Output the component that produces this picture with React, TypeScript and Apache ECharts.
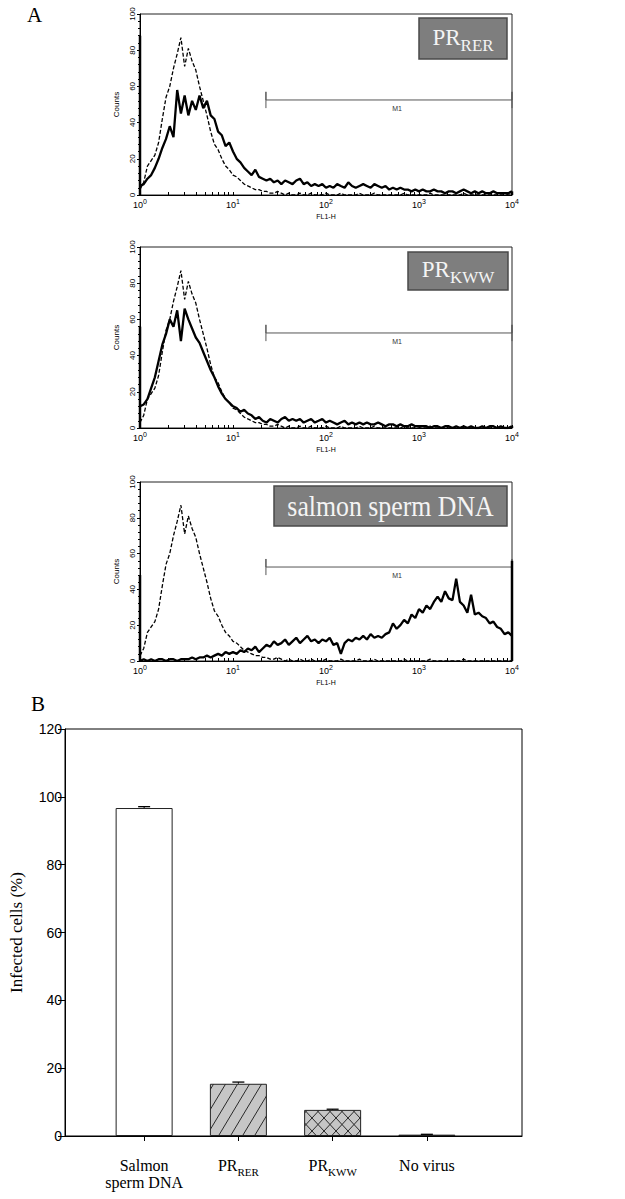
import React, { useEffect, useRef } from 'react';
import * as echarts from 'echarts';

// ---------- Panel A: flow cytometry histograms (FL1-H, log scale) ----------
const FL = [
  1, 1.096, 1.202, 1.318, 1.445, 1.585, 1.738, 1.905, 2.089, 2.291,
  2.512, 2.754, 3.02, 3.311, 3.631, 3.981, 4.365, 4.786, 5.248, 5.754,
  6.31, 6.918, 7.586, 8.318, 9.12, 10, 10.96, 12.02, 13.18, 14.45,
  15.85, 17.38, 19.05, 20.89, 22.91, 25.12, 27.54, 30.2, 33.11, 36.31,
  39.81, 43.65, 47.86, 52.48, 57.54, 63.1, 69.18, 75.86, 83.18, 91.2,
  100, 109.6, 120.2, 131.8, 144.5, 158.5, 173.8, 190.5, 208.9, 229.1,
  251.2, 275.4, 302, 331.1, 363.1, 398.1, 436.5, 478.6, 524.8, 575.4,
  631, 691.8, 758.6, 831.8, 912, 1000, 1096, 1202, 1318, 1445,
  1585, 1738, 1905, 2089, 2291, 2512, 2754, 3020, 3311, 3631,
  3981, 4365, 4786, 5248, 5754, 6310, 6918, 7586, 8318, 9120, 10000,
];

// isotype control (dashed), identical in the three panels
const CONTROL = [
  3, 7, 16, 19, 22, 29, 42, 54, 60, 70,
  78, 87, 71, 81, 74, 69, 60, 52, 44, 35,
  28, 25, 20, 16, 14, 11, 10, 8, 6, 5,
  4, 3, 3, 2, 2, 1, 1, 2, 1, 0,
  1, 0, 0, 1, 0, 0, 1, 0, 0, 0,
  1, 0, 0, 0, 1, 0, 0, 0, 0, 1,
  0, 0, 0, 1, 0, 0, 0, 0, 0, 0,
  0, 1, 0, 0, 0, 0, 0, 0, 1, 0,
  0, 0, 0, 0, 0, 0, 0, 1, 0, 0,
  0, 0, 0, 0, 0, 0, 0, 0, 0, 0, 0,
];

const PR_RER_HIST = [
  5, 6, 9, 11, 15, 20, 26, 31, 38, 32,
  58, 45, 55, 44, 52, 47, 55, 48, 52, 44,
  42, 35, 33, 27, 29, 24, 20, 18, 15, 13,
  11, 14, 10, 9, 8, 9, 7, 8, 6, 8,
  7, 6, 8, 9, 6, 7, 5, 6, 5, 6,
  4, 5, 4, 6, 5, 4, 7, 5, 4, 5,
  6, 5, 4, 6, 5, 4, 5, 3, 4, 3,
  4, 3, 3, 2, 3, 2, 3, 2, 2, 3,
  2, 2, 1, 2, 2, 1, 2, 3, 2, 1,
  2, 1, 2, 1, 1, 2, 1, 1, 1, 1, 2,
];

const PR_KWW_HIST = [
  12, 13, 16, 22, 28, 37, 46, 52, 60, 56,
  65, 48, 66, 60, 55, 50, 47, 42, 37, 32,
  28, 23, 19, 16, 14, 12, 11, 9, 10, 8,
  7, 5, 6, 4, 3, 5, 4, 3, 5, 6,
  4, 5, 4, 5, 3, 4, 5, 3, 4, 5,
  3, 4, 3, 2, 3, 4, 2, 3, 2, 3,
  2, 3, 2, 2, 3, 2, 1, 2, 2, 1,
  2, 1, 1, 2, 1, 1, 1, 1, 0, 1,
  1, 0, 1, 1, 0, 1, 0, 1, 0, 1,
  0, 0, 1, 0, 1, 1, 0, 1, 0, 0, 1,
];

const SALMON_HIST = [
  0, 1, 0, 1, 0, 1, 1, 0, 1, 1,
  0, 1, 1, 1, 2, 1, 2, 2, 3, 2,
  3, 4, 3, 5, 4, 5, 4, 6, 5, 7,
  6, 8, 5, 7, 9, 8, 11, 9, 10, 12,
  9, 11, 13, 10, 12, 14, 11, 12, 10, 12,
  11, 13, 9, 10, 4, 10, 12, 11, 13, 12,
  14, 12, 15, 13, 14, 13, 15, 16, 21, 18,
  20, 23, 21, 26, 24, 29, 27, 31, 29, 33,
  36, 33, 39, 35, 34, 46, 33, 31, 27, 37,
  26, 27, 25, 24, 21, 22, 19, 18, 15, 16, 14,
];

const FIRST_CHANNEL = [88, 56, 48];
const LAST_CHANNEL = [2, 1, 56];
const M1_RANGE = [22.6, 10000];
const M1_LEVEL = 52.5;
const X_DECADES = [1, 10, 100, 1000, 10000];
const PANEL_TITLES = ['PR_RER', 'PR_KWW', 'salmon sperm DNA'];

// ---------- Panel B: infected cells ----------
const CATEGORIES = ['Salmon sperm DNA', 'PR_RER', 'PR_KWW', 'No virus'];
const INFECTED = [96.7, 15.4, 7.7, 0.4];
const INFECTED_SEM = [0.4, 0.5, 0.2, 0.1];

const SANS = 'Liberation Sans, Arial, sans-serif';
const SERIF = 'Liberation Serif, Times New Roman, serif';

function makeHatch(cross: boolean) {
  const w = 12;
  const h = cross ? 13 : 20;
  const c = document.createElement('canvas');
  c.width = w;
  c.height = h;
  const ctx = c.getContext('2d')!;
  ctx.fillStyle = '#c6c6c6';
  ctx.fillRect(0, 0, w, h);
  ctx.strokeStyle = '#2a2a2a';
  ctx.lineWidth = 1;
  for (const off of [-w, 0, w]) {
    ctx.beginPath();
    ctx.moveTo(off, h);
    ctx.lineTo(off + w, 0);
    ctx.stroke();
    if (cross) {
      ctx.beginPath();
      ctx.moveTo(off, 0);
      ctx.lineTo(off + w, h);
      ctx.stroke();
    }
  }
  return c;
}

export default function App() {
  const ref = useRef<HTMLDivElement>(null);

  useEffect(() => {
    if (!ref.current) return;
    const chart = echarts.init(ref.current, null, { renderer: 'svg' });

    const panelLayout = [
      { top: 14, height: 181 },
      { top: 247, height: 181 },
      { top: 482, height: 179 },
    ];
    const hists = [PR_RER_HIST, PR_KWW_HIST, SALMON_HIST];

    const minorTicks: number[] = [];
    X_DECADES.slice(0, -1).forEach((d) => {
      for (let k = 1; k <= 9; k++) minorTicks.push(d * k);
    });
    minorTicks.push(X_DECADES[X_DECADES.length - 1]);

    const grid: any[] = panelLayout.map((p) => ({
      left: 140,
      width: 372,
      top: p.top,
      height: p.height,
      show: true,
      borderColor: '#222',
      borderWidth: 1,
    }));
    grid.push({ left: 59, width: 463, top: 729, height: 407, show: true, borderColor: '#000', borderWidth: 1 });
    grid.push({ left: 97, width: 377, top: 729, height: 407 });

    const xAxis: any[] = panelLayout.map((_, i) => ({
      type: 'log',
      logBase: 10,
      min: 1,
      max: 10000,
      gridIndex: i,
      axisLine: { show: true, lineStyle: { color: '#000', width: 1 } },
      axisTick: { show: true, inside: true, length: 3, customValues: minorTicks, lineStyle: { color: '#000' } },
      splitLine: { show: false },
      axisLabel: {
        margin: 3,
        formatter: (v: number) => `{b|10}{s|${Math.round(Math.log10(v))}}`,
        rich: {
          b: { fontSize: 9, fontFamily: SANS, color: '#000', verticalAlign: 'bottom' },
          s: { fontSize: 7, fontFamily: SANS, color: '#000', verticalAlign: 'bottom', padding: [0, 0, 4, 0] },
        },
      },
      name: 'FL1-H',
      nameLocation: 'middle',
      nameGap: 18,
      nameTextStyle: { fontSize: 7, fontFamily: SANS, color: '#000' },
    }));
    xAxis.push({
      type: 'value',
      gridIndex: 3,
      min: 0,
      max: 1,
      axisLine: { show: true, lineStyle: { color: '#000', width: 1 } },
      axisTick: { show: false },
      axisLabel: { show: false },
      splitLine: { show: false },
    });
    xAxis.push({
      type: 'category',
      gridIndex: 4,
      data: CATEGORIES,
      axisLine: { show: false },
      axisTick: { show: true, alignWithLabel: true, length: 5, lineStyle: { color: '#000' } },
      axisLabel: {
        margin: 24,
        interval: 0,
        formatter: (v: string) => {
          if (v.includes('_')) {
            const [m, s] = v.split('_');
            return `{m|${m}}{s|${s}}`;
          }
          const words = v.split(' ');
          if (words.length > 2) return `{m|${words[0]}}\n{m|${words.slice(1).join(' ')}}`;
          return `{m|${v}}`;
        },
        rich: {
          m: { fontSize: 16, fontFamily: SERIF, color: '#000', verticalAlign: 'bottom', lineHeight: 17, padding: [0, 0, 4, 0] },
          s: { fontSize: 11, fontFamily: SERIF, color: '#000', verticalAlign: 'bottom', lineHeight: 13 },
        },
      },
    });

    const yAxis: any[] = panelLayout.map((_, i) => ({
      type: 'value',
      gridIndex: i,
      min: 0,
      max: 100,
      interval: 20,
      axisLine: { show: true, lineStyle: { color: '#000', width: 1 } },
      axisTick: { show: true, length: 3, lineStyle: { color: '#000' } },
      minorTick: { show: true, splitNumber: 5, length: 2, lineStyle: { color: '#000' } },
      splitLine: { show: false },
      axisLabel: { rotate: 90, fontSize: 8, margin: 4, color: '#000', fontFamily: SANS },
      name: 'Counts',
      nameLocation: 'middle',
      nameGap: 18,
      nameTextStyle: { fontSize: 8, fontFamily: SANS, color: '#000' },
    }));
    yAxis.push({
      type: 'value',
      gridIndex: 3,
      min: 0,
      max: 120,
      interval: 20,
      axisLine: { show: true, lineStyle: { color: '#000', width: 1 } },
      axisTick: { show: true, length: 7, lineStyle: { color: '#000' } },
      splitLine: { show: false },
      axisLabel: { fontSize: 14, margin: 3, color: '#000', fontFamily: SANS },
      name: 'Infected cells (%)',
      nameLocation: 'middle',
      nameGap: 40,
      nameTextStyle: { fontSize: 17, fontFamily: SERIF, color: '#000' },
    });
    yAxis.push({ type: 'value', gridIndex: 4, min: 0, max: 120, show: false });

    const series: any[] = [];
    hists.forEach((h, i) => {
      const base = { type: 'line', xAxisIndex: i, yAxisIndex: i, symbol: 'none', silent: true };
      series.push({
        ...base,
        data: FL.map((x, k) => [x, CONTROL[k]]),
        lineStyle: { color: '#000', width: 1.3, type: [4, 2] },
        z: 2,
      });
      series.push({
        ...base,
        data: FL.map((x, k) => [x, h[k]]),
        lineStyle: { color: '#000', width: 2.3 },
        z: 3,
      });
      series.push({
        ...base,
        clip: false,
        data: [[FL[0], 0], [FL[0], FIRST_CHANNEL[i]]],
        lineStyle: { color: '#000', width: 2.5 },
        z: 4,
      });
      series.push({
        ...base,
        clip: false,
        data: [[FL[FL.length - 1], 0], [FL[FL.length - 1], LAST_CHANNEL[i]]],
        lineStyle: { color: '#000', width: 2.5 },
        z: 4,
      });
      series.push({
        ...base,
        clip: false,
        data: [
          [M1_RANGE[0], M1_LEVEL - 4.5],
          [M1_RANGE[0], M1_LEVEL + 4.5],
          [M1_RANGE[0], M1_LEVEL],
          [M1_RANGE[1], M1_LEVEL],
          [M1_RANGE[1], M1_LEVEL + 4.5],
          [M1_RANGE[1], M1_LEVEL - 4.5],
        ],
        lineStyle: { color: '#555', width: 1 },
        z: 1,
      });
    });

    const fills: any[] = [
      '#ffffff',
      { image: makeHatch(false), repeat: 'repeat' },
      { image: makeHatch(true), repeat: 'repeat' },
      '#000000',
    ];
    series.push({
      type: 'bar',
      xAxisIndex: 4,
      yAxisIndex: 4,
      barWidth: 57,
      silent: true,
      data: INFECTED.map((v, i) => ({
        value: v,
        itemStyle: { color: fills[i], borderColor: '#222', borderWidth: 1 },
      })),
      z: 2,
    });
    series.push({
      type: 'custom',
      xAxisIndex: 4,
      yAxisIndex: 4,
      silent: true,
      z: 3,
      data: CATEGORIES.map((_, i) => [i, INFECTED[i], INFECTED_SEM[i]]),
      renderItem: (_params: any, api: any) => {
        const x = api.value(0);
        const v = api.value(1);
        const e = api.value(2);
        const top = api.coord([x, v + e]);
        const base = api.coord([x, v]);
        return {
          type: 'group',
          children: [
            { type: 'line', shape: { x1: top[0], y1: base[1], x2: top[0], y2: top[1] }, style: { stroke: '#000', lineWidth: 1 } },
            { type: 'line', shape: { x1: top[0] - 6, y1: top[1], x2: top[0] + 6, y2: top[1] }, style: { stroke: '#000', lineWidth: 1.3 } },
          ],
        };
      },
    });

    const boxes = [
      { x: 419, y: 18, w: 88, h: 41 },
      { x: 408, y: 252, w: 100, h: 38 },
      { x: 274, y: 486, w: 233, h: 40 },
    ];
    const m1LabelY = [108, 341, 575];
    const graphic: any[] = [];
    PANEL_TITLES.forEach((t, i) => {
      const b = boxes[i];
      graphic.push({
        type: 'rect',
        shape: { x: b.x, y: b.y, width: b.w, height: b.h },
        style: { fill: '#7e7e7e', stroke: '#4a4a4a', lineWidth: 1.5 },
        z: 10,
      });
      const isSub = t.includes('_');
      const [m, s] = t.split('_');
      graphic.push({
        type: 'text',
        x: b.x + b.w / 2,
        y: b.y + b.h / 2 + (isSub ? 1 : 0),
        scaleX: isSub ? 1 : 0.86,
        z: 11,
        style: isSub
          ? {
              text: `{m|${m}}{s|${s}}`,
              align: 'center',
              verticalAlign: 'middle',
              rich: {
                m: { fontSize: 23, fontFamily: SERIF, fill: '#f4f4f4', verticalAlign: 'bottom', padding: [0, 0, 5, 0] },
                s: { fontSize: 17, fontFamily: SERIF, fill: '#f4f4f4', verticalAlign: 'bottom' },
              },
            }
          : {
              text: t,
              align: 'center',
              verticalAlign: 'middle',
              fontSize: 30,
              fontFamily: SERIF,
              fill: '#f4f4f4',
            },
      });
      graphic.push({
        type: 'text',
        x: 397,
        y: m1LabelY[i],
        z: 11,
        style: { text: 'M1', align: 'center', verticalAlign: 'middle', fontSize: 7, fontFamily: SANS, fill: '#333' },
      });
    });
    graphic.push({
      type: 'text',
      x: 27,
      y: 15,
      style: { text: 'A', align: 'left', verticalAlign: 'middle', fontSize: 21, fontFamily: SERIF, fill: '#000' },
    });
    graphic.push({
      type: 'text',
      x: 31,
      y: 704,
      style: { text: 'B', align: 'left', verticalAlign: 'middle', fontSize: 21, fontFamily: SERIF, fill: '#000' },
    });

    chart.setOption({
      animation: false,
      backgroundColor: '#ffffff',
      grid,
      xAxis,
      yAxis,
      series,
      graphic,
    });

    return () => chart.dispose();
  }, []);

  return (
    <div
      ref={ref}
      style={{ position: 'absolute', left: 0, top: 0, width: 625, height: 1199, background: '#fff' }}
    />
  );
}
